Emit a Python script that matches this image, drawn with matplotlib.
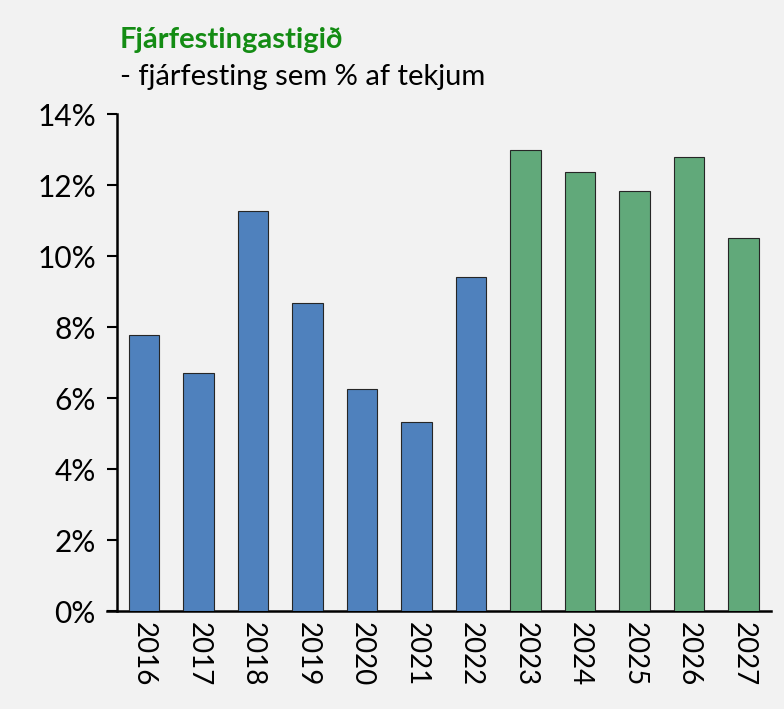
import numpy as np
import matplotlib.pyplot as plt
from matplotlib.ticker import FuncFormatter

years = ['2016', '2017', '2018', '2019', '2020', '2021', '2022',
         '2023', '2024', '2025', '2026', '2027']
values = [7.77, 6.70, 11.27, 8.68, 6.25, 5.32, 9.41,
          12.99, 12.37, 11.83, 12.79, 10.51]
n_actual = 7  # first 7 years actual (blue), rest plan (green)

plt.rcParams['font.family'] = ['Lato', 'DejaVu Sans']

bg = '#f2f2f2'
fig = plt.figure(figsize=(7.84, 7.09), dpi=100, facecolor=bg)
ax = fig.add_axes([0.149, 0.138, 0.834, 0.701], facecolor=bg)

colors = ['#4f81bd'] * n_actual + ['#61a97a'] * (len(years) - n_actual)
x = np.arange(len(years))
ax.bar(x, values, width=0.56, color=colors, edgecolor='#262626', linewidth=0.8, zorder=3)

ax.set_xlim(-0.5, len(years) - 0.5)
ax.set_ylim(0, 14)
ax.set_yticks(np.arange(0, 15, 2))
ax.yaxis.set_major_formatter(FuncFormatter(lambda v, p: f'{v:.0f}%'))
ax.set_xticks(x)
ax.set_xticklabels(years, rotation=270)
ax.tick_params(axis='y', length=7, width=1.5, labelsize=21.5, pad=8)
ax.tick_params(axis='x', length=0, labelsize=20, pad=8)

for s in ['top', 'right']:
    ax.spines[s].set_visible(False)
for s in ['left', 'bottom']:
    ax.spines[s].set_linewidth(1.8)
    ax.spines[s].set_color('black')
ax.spines['bottom'].set_bounds(-0.68, len(years) - 0.5)
ax.spines['bottom'].set_clip_on(False)

fig.text(0.153, 0.944, 'Fjárfestingastigið', color='#148c14', fontsize=21,
         fontweight='bold', va='center', ha='left')
fig.text(0.153, 0.891, '- fjárfesting sem % af tekjum', color='black', fontsize=21,
         va='center', ha='left')

fig.savefig('out.png', dpi=100, facecolor=bg)
